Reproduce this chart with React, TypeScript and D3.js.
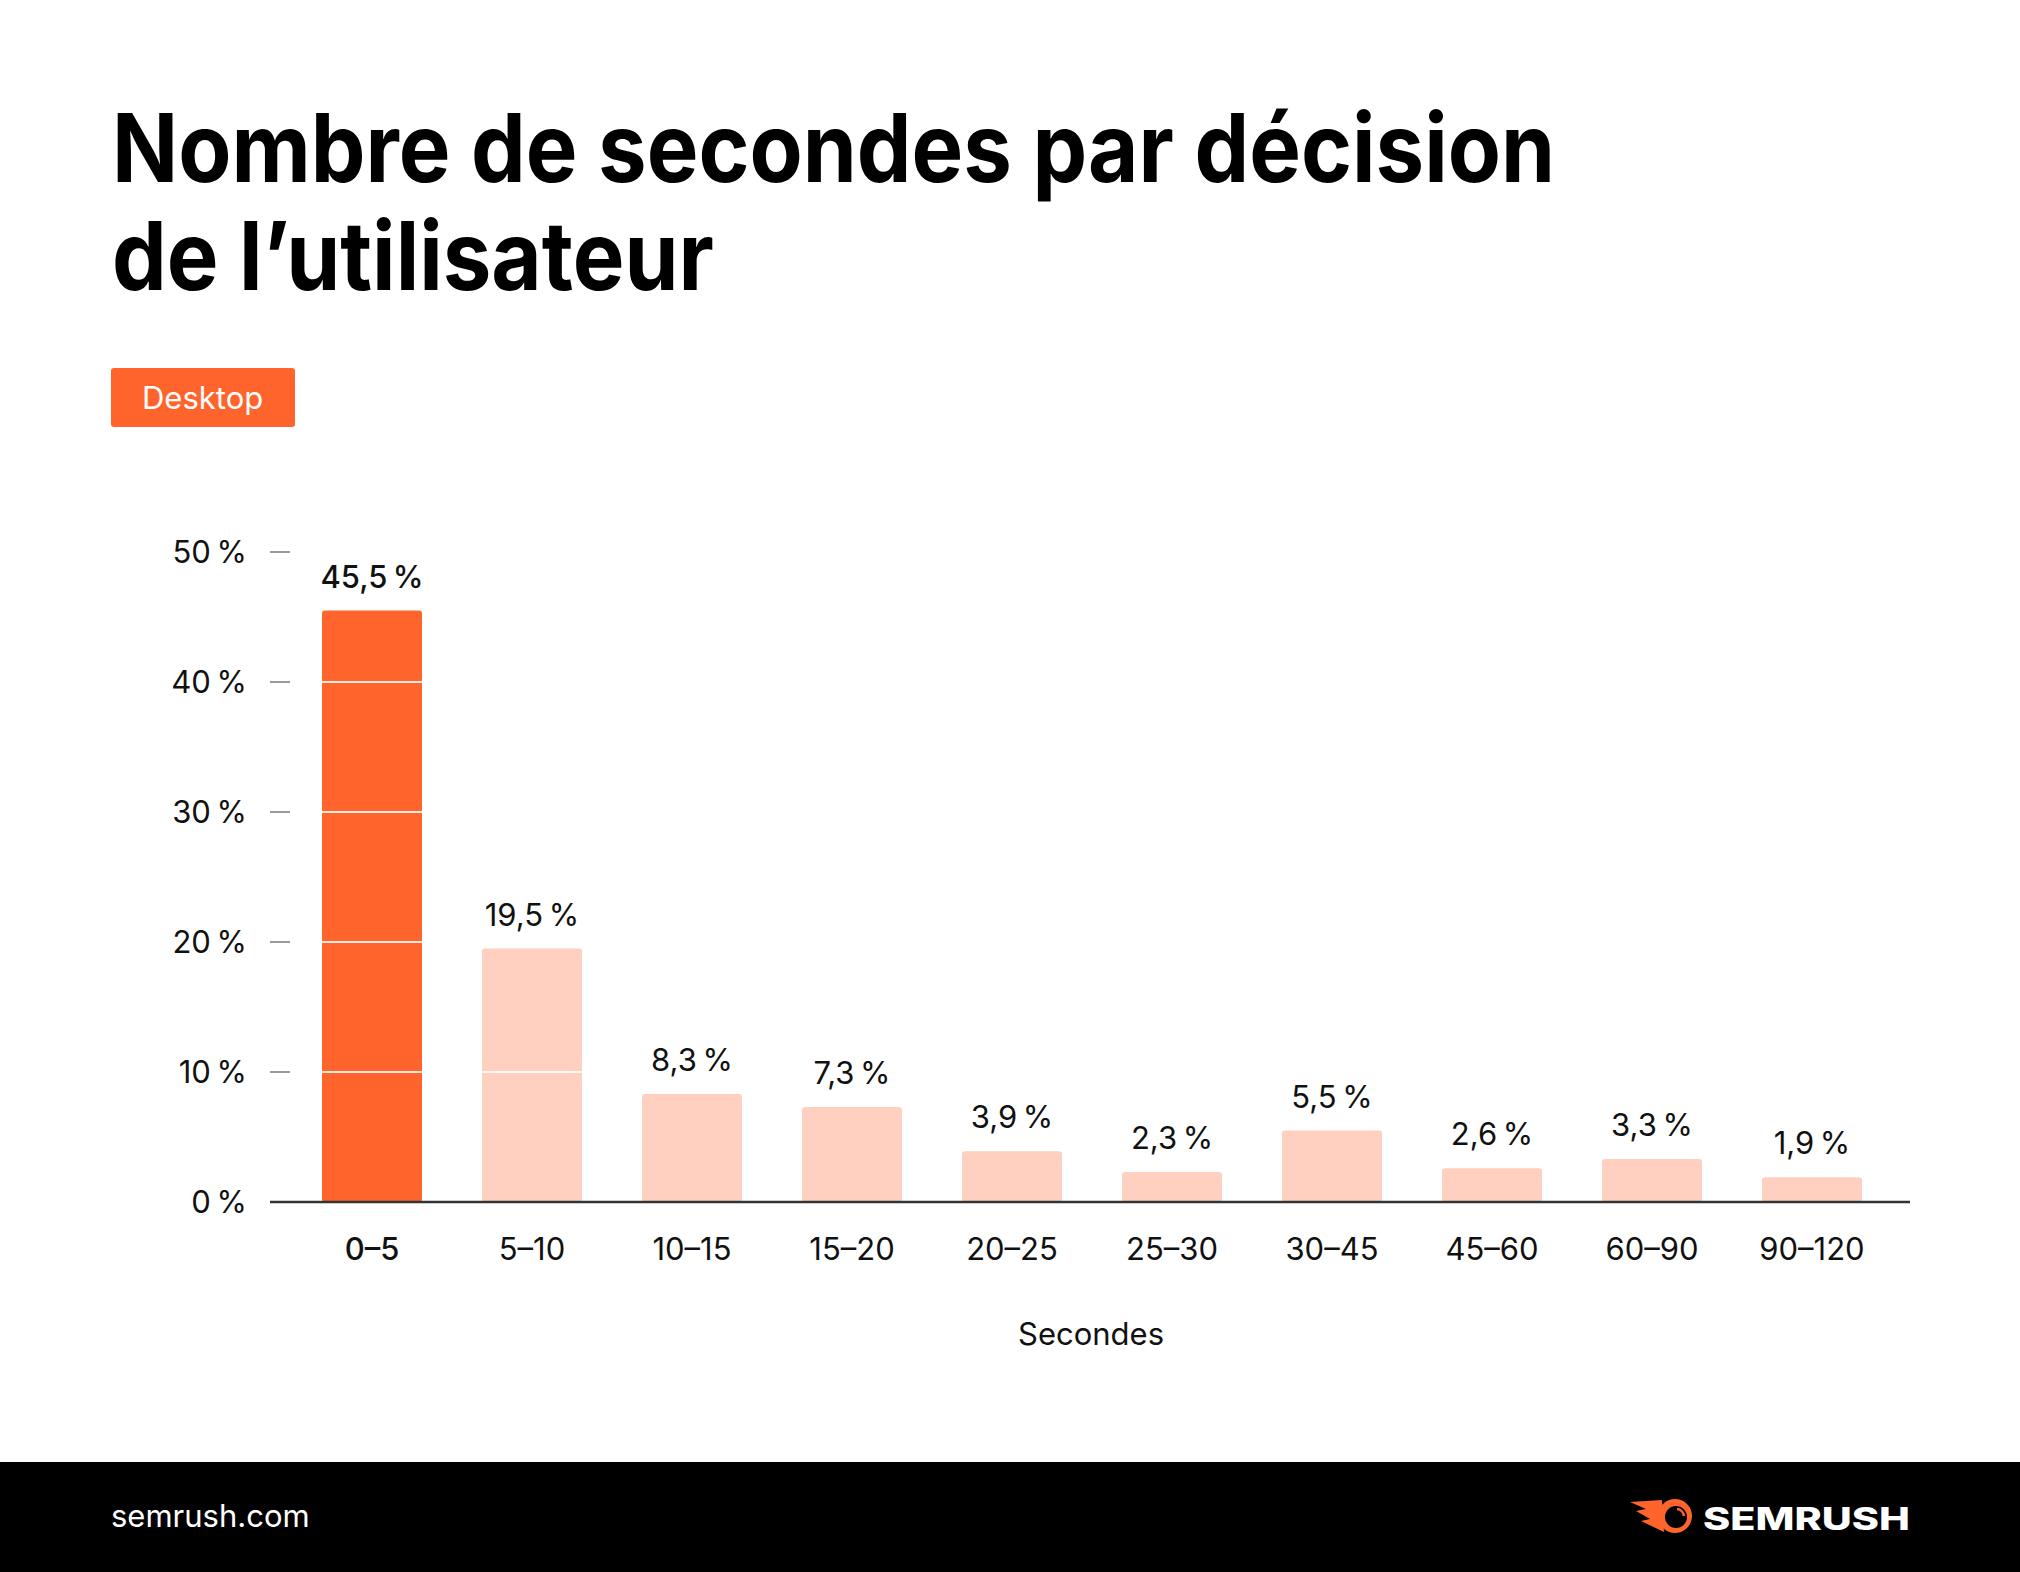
import React from "react";
import * as d3 from "d3";

const categories = ["0–5", "5–10", "10–15", "15–20", "20–25", "25–30", "30–45", "45–60", "60–90", "90–120"];
const values = [45.5, 19.5, 8.3, 7.3, 3.9, 2.3, 5.5, 2.6, 3.3, 1.9];
const yTicks = [0, 10, 20, 30, 40, 50];
const titleLines = ["Nombre de secondes par décision", "de l’utilisateur"];
const titleWidths = [1443, 602];
const legendLabel = "Desktop";
const xAxisTitle = "Secondes";

const ORANGE = "#FF642D";
const LIGHT = "#FFD0C0";
const FONT = "Inter, 'Noto Sans', sans-serif";

const fmt = (v: number) => v.toFixed(1).replace(".", ",") + "\u2009%";

export default function App() {
  const W = 2020;
  const H = 1572;
  const y = d3.scaleLinear().domain([0, 50]).range([1202, 552]);
  const x = d3
    .scaleBand<string>()
    .domain(categories)
    .range([292, 1892])
    .paddingInner(0.375)
    .paddingOuter(0.1875);
  const axisX0 = 270;
  const axisX1 = 1910;

  return (
    <svg
      width={W}
      height={H}
      viewBox={`0 0 ${W} ${H}`}
      style={{ position: "absolute", left: 0, top: 0, fontFamily: FONT }}
    >
      <rect x={0} y={0} width={W} height={H} fill="#fff" />
      {titleLines.map((t, i) => (
        <text
          key={i}
          x={112}
          y={182 + i * 108}
          fontSize={95}
          fontWeight={700}
          fill="#000"
          textLength={titleWidths[i]}
          lengthAdjust="spacingAndGlyphs"
        >
          {t}
        </text>
      ))}
      <rect x={111} y={368} width={184} height={59} rx={3} fill={ORANGE} />
      <text x={142} y={409} fontSize={31} fill="#fff">
        {legendLabel}
      </text>

      {yTicks.map((t) => (
        <g key={t}>
          <text x={247} y={y(t) + 11} fontSize={31} textAnchor="end" fill="#111">
            {t}{"\u2009"}%
          </text>
          {t > 0 && (
            <line x1={270} x2={290} y1={y(t)} y2={y(t)} stroke="#9a9a9a" strokeWidth={2} />
          )}
        </g>
      ))}

      {categories.map((c, i) => (
        <rect
          key={c}
          x={x(c)}
          y={y(values[i])}
          width={x.bandwidth()}
          height={y(0) - y(values[i])}
          rx={3}
          fill={i === 0 ? ORANGE : LIGHT}
        />
      ))}

      {yTicks
        .filter((t) => t > 0)
        .map((t) => (
          <line
            key={"g" + t}
            x1={axisX0 + 20}
            x2={axisX1}
            y1={y(t)}
            y2={y(t)}
            stroke="#fff"
            strokeOpacity={0.85}
            strokeWidth={2}
          />
        ))}

      <line x1={axisX0} x2={axisX1} y1={y(0)} y2={y(0)} stroke="#333" strokeWidth={2.5} />

      {categories.map((c, i) => (
        <text
          key={"v" + c}
          x={(x(c) as number) + x.bandwidth() / 2}
          y={y(values[i]) - 23}
          fontSize={31}
          fontWeight={i === 0 ? 500 : 400}
          textAnchor="middle"
          fill="#111"
        >
          {fmt(values[i])}
        </text>
      ))}

      {categories.map((c, i) => (
        <text
          key={"x" + c}
          x={(x(c) as number) + x.bandwidth() / 2}
          y={1260}
          fontSize={31}
          fontWeight={i === 0 ? 500 : 400}
          textAnchor="middle"
          fill="#111"
        >
          {c}
        </text>
      ))}

      <text x={1091} y={1345} fontSize={31} textAnchor="middle" fill="#111">
        {xAxisTitle}
      </text>

      <rect x={0} y={1462} width={W} height={H - 1462} fill="#000" />
      <text x={111} y={1527} fontSize={31} fill="#fff">
        semrush.com
      </text>
      <g>
        <path
          d="M1662,1500 L1630,1502 L1646,1509 L1636,1511 L1650,1519 L1641,1521 L1664,1532 Z"
          fill={ORANGE}
        />
        <circle cx={1675} cy={1516} r={17} fill={ORANGE} />
        <circle cx={1676} cy={1517} r={11} fill="#000" />
        <path d="M1677,1509 A8,8 0 0 1 1684,1516" stroke={ORANGE} strokeWidth={2.5} fill="none" />
      </g>
      <text
        x={1703}
        y={1530}
        fontSize={31}
        fontWeight={800}
        fill="#fff"
        textLength={207}
        lengthAdjust="spacingAndGlyphs"
      >
        SEMRUSH
      </text>
    </svg>
  );
}
